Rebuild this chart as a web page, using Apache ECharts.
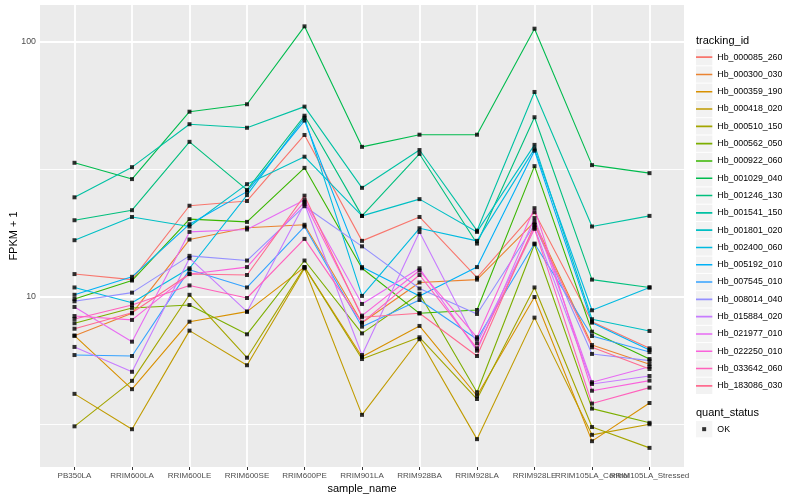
<!DOCTYPE html>
<html><head><meta charset="utf-8">
<script src="https://cdn.jsdelivr.net/npm/echarts@6/dist/echarts.min.js"></script>
<style>html,body{margin:0;padding:0;background:#fff}#c{width:800px;height:500px}</style>
</head><body><div id="c"></div>
<script>
const categories = ['PB350LA','RRIM600LA','RRIM600LE','RRIM600SE','RRIM600PE','RRIM901LA','RRIM928BA','RRIM928LA','RRIM928LE','RRIM105LA_Control','RRIM105LA_Stressed'];
const trackingIds = ['Hb_000085_260','Hb_000300_030','Hb_000359_190','Hb_000418_020','Hb_000510_150','Hb_000562_050','Hb_000922_060','Hb_001029_040','Hb_001246_130','Hb_001541_150','Hb_001801_020','Hb_002400_060','Hb_005192_010','Hb_007545_010','Hb_008014_040','Hb_015884_020','Hb_021977_010','Hb_022250_010','Hb_033642_060','Hb_183086_030'];
const colors = ['#F8766D','#EA8331','#D89000','#C09B00','#A3A500','#7CAE00','#39B600','#00BB4E','#00BF7D','#00C1A3','#00BFC4','#00BAE0','#00B0F6','#35A2FF','#9590FF','#C77CFF','#E76BF3','#FA62DB','#FF62BC','#FF6C90'];

const hb_000085_260 = [12.3, 11.7, 22.8, 23.8, 43.2, 16.6, 20.6, 11.9, 21.5, 8.0, 6.29];
const hb_000300_030 = [7.05, 8.63, 16.8, 18.7, 19.2, 7.93, 11.4, 11.7, 19.7, 6.48, 5.45];
const hb_000359_190 = [7.05, 4.35, 8.0, 8.76, 13.1, 5.83, 7.70, 4.10, 10.0, 2.72, 3.84];
const hb_000418_020 = [4.17, 3.03, 7.38, 5.40, 12.96, 3.45, 6.83, 2.77, 8.30, 2.88, 3.17];
const hb_000510_150 = [3.11, 4.69, 10.2, 5.78, 13.1, 5.71, 6.95, 3.98, 10.9, 3.09, 2.56];
const hb_000562_050 = [7.89, 9.06, 9.30, 7.14, 13.9, 7.20, 10.3, 4.23, 16.1, 3.65, 3.21];
const hb_000922_060 = [9.82, 11.6, 20.2, 19.7, 32.1, 12.96, 8.63, 8.89, 32.6, 7.31, 5.71];
const hb_001029_040 = [33.6, 29.0, 53.3, 57.0, 115.2, 38.8, 43.3, 43.3, 112.8, 32.9, 30.6];
const hb_001246_130 = [20.0, 21.9, 40.6, 26.3, 51.4, 20.8, 36.4, 16.2, 50.7, 11.7, 10.9];
const hb_001541_150 = [24.6, 32.3, 47.6, 46.1, 55.8, 26.8, 37.7, 18.2, 63.7, 18.9, 20.8];
const hb_001801_020 = [16.7, 20.6, 18.9, 27.7, 35.5, 20.8, 24.2, 18.0, 39.5, 8.18, 7.36];
const hb_002400_060 = [10.9, 9.50, 12.96, 25.1, 50.5, 10.1, 18.6, 16.6, 38.1, 8.87, 10.9];
const hb_005192_010 = [10.2, 12.0, 19.3, 25.9, 49.2, 13.1, 10.1, 13.1, 37.5, 7.93, 6.20];
const hb_007545_010 = [5.92, 5.87, 12.8, 10.9, 18.9, 7.65, 9.73, 6.83, 16.2, 7.03, 6.08];
const hb_008014_040 = [9.62, 10.4, 14.5, 13.9, 22.7, 15.8, 10.8, 8.58, 19.2, 5.98, 5.63];
const hb_015884_020 = [6.37, 5.09, 14.2, 8.76, 23.2, 5.92, 18.0, 6.58, 18.7, 4.56, 4.90];
const hb_021977_010 = [9.14, 6.68, 18.0, 18.4, 24.0, 9.39, 12.96, 6.16, 20.4, 4.63, 5.33];
const hb_022250_010 = [8.42, 8.13, 12.3, 13.1, 23.6, 8.45, 12.7, 6.95, 22.3, 4.29, 4.70];
const hb_033642_060 = [8.20, 9.30, 11.1, 9.91, 16.9, 7.93, 12.2, 6.29, 18.5, 3.82, 4.41];
const hb_183086_030 = [7.51, 8.68, 12.3, 12.2, 24.97, 8.33, 8.63, 5.87, 19.2, 6.35, 5.22];

const seriesValues = [hb_000085_260, hb_000300_030, hb_000359_190, hb_000418_020, hb_000510_150, hb_000562_050, hb_000922_060, hb_001029_040, hb_001246_130, hb_001541_150, hb_001801_020, hb_002400_060, hb_005192_010, hb_007545_010, hb_008014_040, hb_015884_020, hb_021977_010, hb_022250_010, hb_033642_060, hb_183086_030];

const yTickLabels = [10, 100];
const minorBreaks = [3.1623, 31.623];
const quantStatus = ['OK'];

const FONT = '"Liberation Sans", Arial, Helvetica, sans-serif';
const chart = echarts.init(document.getElementById('c'), null, {renderer: 'canvas'});

const catIdx = categories.map((_, i) => i);
const evenIdx = catIdx.filter(i => i % 2 === 0);
const oddIdx = catIdx.filter(i => i % 2 === 1);

const lineSeries = trackingIds.map((name, i) => ({
  name: name,
  type: 'line',
  data: seriesValues[i].map((v, j) => [j, v]),
  showSymbol: false,
  symbol: 'none',
  lineStyle: {color: colors[i], width: 1.1},
  itemStyle: {color: colors[i]},
  z: 2,
  silent: true,
  animation: false
}));

const points = [];
seriesValues.forEach(arr => arr.forEach((v, j) => points.push([j, v])));

const legendCommon = {
  orient: 'vertical', left: 696, top: 49, padding: 0,
  itemWidth: 16.3, itemHeight: 16.3, itemGap: 1,
  selectedMode: false,
  textStyle: {fontSize: 8.8, fontFamily: FONT, color: '#000'}
};

const xLabelStyle = {formatter: v => categories[Math.round(v)] || '', fontSize: 8, color: '#4D4D4D', fontFamily: FONT, margin: 5,
  hideOverlap: false, showMinLabel: true, showMaxLabel: true};

const option = {
  backgroundColor: '#fff',
  animation: false,
  title: [
    {text: 'tracking_id', left: 696, top: 35, padding: 0, textStyle: {fontSize: 11, fontWeight: 'normal', color: '#000', fontFamily: FONT}},
    {text: 'quant_status', left: 696, top: 407, padding: 0, textStyle: {fontSize: 11, fontWeight: 'normal', color: '#000', fontFamily: FONT}}
  ],
  legend: [
    Object.assign({}, legendCommon, {data: trackingIds, icon: 'rect', itemStyle: {color: '#F2F2F2', borderWidth: 0}}),
    Object.assign({}, legendCommon, {
      data: trackingIds.map((n, i) => ({name: n, itemStyle: {color: colors[i], borderWidth: 0}})),
      icon: 'path://M0 0h0.01v0.01h-0.01z M0 7.65h17v1.7h-17z M16.99 16.99h0.01v0.01h-0.01z',
      textStyle: {fontSize: 8.8, fontFamily: FONT, color: 'rgba(0,0,0,0)'}
    }),
    Object.assign({}, legendCommon, {data: quantStatus, top: 421, icon: 'rect', itemStyle: {color: '#F2F2F2', borderWidth: 0}}),
    Object.assign({}, legendCommon, {data: quantStatus, top: 427.15, left: 702.15, itemWidth: 4, itemHeight: 4, icon: 'rect',
      itemStyle: {color: '#000', borderWidth: 0}, textStyle: {fontSize: 4, color: 'rgba(0,0,0,0)'}})
  ],
  grid: {left: 40, right: 116, top: 5, bottom: 33, show: true, backgroundColor: '#EBEBEB', borderWidth: 0, containLabel: false, outerBoundsMode: 'none'},
  xAxis: [
    {
      type: 'value', min: -0.6, max: categories.length - 1 + 0.6,
      name: 'sample_name', nameLocation: 'middle', nameGap: 16, nameMoveOverlap: false,
      nameTextStyle: {fontSize: 11, color: '#000', fontFamily: FONT},
      axisLine: {show: false},
      axisTick: {show: true, length: 3, lineStyle: {color: '#333', width: 1}, customValues: catIdx},
      axisLabel: Object.assign({customValues: evenIdx}, xLabelStyle),
      splitLine: {show: true, lineStyle: {color: '#fff', width: 1.8}}
    },
    {
      type: 'value', min: -0.6, max: categories.length - 1 + 0.6, position: 'bottom',
      axisLine: {show: false},
      axisTick: {show: false, customValues: oddIdx},
      axisLabel: Object.assign({customValues: oddIdx}, xLabelStyle),
      splitLine: {show: false}
    }
  ],
  yAxis: {
    type: 'log', logBase: 10, min: 2.154, max: 139.7,
    name: 'FPKM + 1', nameLocation: 'middle', nameGap: 21, nameRotate: 90, nameMoveOverlap: false,
    nameTextStyle: {fontSize: 11, color: '#000', fontFamily: FONT},
    axisLine: {show: false},
    axisTick: {show: false},
    axisLabel: {showMinLabel: false, showMaxLabel: false, fontSize: 8.8, color: '#4D4D4D', fontFamily: FONT, margin: 4,
      formatter: v => (yTickLabels.some(t => Math.abs(t - v) / t < 1e-6) ? String(Math.round(v)) : '')},
    splitLine: {show: true, showMinLine: false, showMaxLine: false, lineStyle: {color: '#fff', width: 1.8}}
  },
  series: [
    {
      name: '__minor', type: 'line', data: [], z: 1, silent: true,
      markLine: {silent: true, z: 1, symbol: ['none', 'none'], label: {show: false}, animation: false,
        lineStyle: {color: '#fff', width: 0.9, type: 'solid'},
        data: minorBreaks.map(v => ({yAxis: v}))}
    }
  ].concat(lineSeries).concat([
    {name: 'OK', type: 'scatter', data: points, symbol: 'rect', symbolSize: 4, itemStyle: {color: '#000'}, z: 3, silent: true}
  ])
};
chart.setOption(option);
</script></body></html>
